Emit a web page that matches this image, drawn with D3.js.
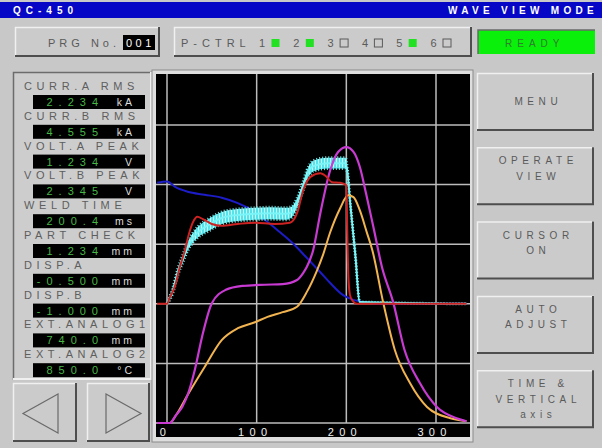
<!DOCTYPE html>
<html>
<head>
<meta charset="utf-8">
<script src="https://cdn.jsdelivr.net/npm/d3@7"></script>
<style>
  body { margin: 0; background: #c8c8c8; }
  text { font-family: "Liberation Sans", Arial, sans-serif; }
</style>
</head>
<body>
<div id="chart"></div>
<script>
// ---- data ----
const timeTicks = [0, 100, 200, 300];
const gridDivs = [0, 1, 2, 3, 4, 5];

const measureLabels = ['CURR.A RMS', 'CURR.B RMS', 'VOLT.A PEAK', 'VOLT.B PEAK', 'WELD TIME',
                       'PART CHECK', 'DISP.A', 'DISP.B', 'EXT.ANALOG1', 'EXT.ANALOG2'];
const measureValues = ['2.234', '4.555', '1.234', '2.345', '200.4', '1.234', '-0.500', '-1.000', '740.0', '850.0'];
const measureUnits = ['kA', 'kA', 'V', 'V', 'ms', 'mm', 'mm', 'mm', 'mm', '°C'];

const ctrlNames = ['1', '2', '3', '4', '5', '6'];
const ctrlOn = [true, true, false, false, true, false];

const menuButtons = [['MENU'], ['OPERATE', 'VIEW'], ['CURSOR', 'ON'], ['AUTO', 'ADJUST'], ['TIME &', 'VERTICAL', 'axis']];

// waveforms: time (ms) / value (grid divisions)
const redT = [-11, 0, 3, 9, 14, 20, 25, 29, 34, 40, 50, 61, 79, 98, 120, 137, 145, 152, 160, 171, 178, 184, 193, 200, 201, 202, 204, 207, 212, 334];
const redV = [2.0, 2.0, 2.1, 2.3, 2.6, 2.9, 3.2, 3.37, 3.46, 3.42, 3.34, 3.31, 3.34, 3.36, 3.34, 3.36, 3.52, 3.91, 4.13, 4.19, 4.13, 4.04, 4.03, 3.99, 3.24, 2.57, 2.15, 2.05, 2.0, 2.0];

const cyanT = [0, 1, 6, 12, 18, 23, 29, 35, 46, 61, 79, 98, 115, 132, 139, 145, 151, 156, 163, 179, 199, 201, 204, 210, 215, 334];
const cyanV = [2.0, 2.03, 2.2, 2.53, 2.77, 2.96, 3.11, 3.21, 3.32, 3.44, 3.49, 3.51, 3.52, 3.51, 3.54, 3.69, 3.94, 4.16, 4.31, 4.36, 4.36, 4.24, 3.74, 2.82, 2.03, 2.0];
const cyanW = [0, 0.01, 0.04, 0.05, 0.06, 0.07, 0.08, 0.09, 0.1, 0.1, 0.1, 0.1, 0.1, 0.1, 0.09, 0.08, 0.07, 0.08, 0.09, 0.09, 0.09, 0.03, 0, 0, 0, 0];

const blueT = [-11, 0, 9, 23, 42, 61, 79, 95, 109, 123, 140, 156, 171, 182, 196, 207, 219, 238, 334];
const blueV = [4.03, 4.05, 3.96, 3.88, 3.83, 3.78, 3.69, 3.57, 3.41, 3.24, 3.02, 2.77, 2.53, 2.35, 2.15, 2.07, 2.03, 2.0, 2.0];

const magT = [-11, 3, 10, 17, 23, 31, 39, 50, 65, 84, 109, 129, 145, 152, 156, 163, 171, 182, 191, 200, 208, 215, 222, 230, 240, 252, 265, 282, 301, 323, 334];
const magV = [0, 0, 0.13, 0.27, 0.47, 0.89, 1.44, 2.01, 2.23, 2.3, 2.32, 2.33, 2.4, 2.52, 2.62, 2.9, 3.52, 4.24, 4.55, 4.63, 4.55, 4.3, 3.85, 3.3, 2.6, 2.04, 1.22, 0.67, 0.27, 0.08, 0.03];

const orT = [-11, 3, 10, 23, 42, 61, 79, 98, 112, 129, 145, 156, 167, 174, 182, 193, 202, 208, 215, 223, 229, 241, 254, 271, 290, 316, 334];
const orV = [0, 0, 0.13, 0.47, 0.94, 1.39, 1.59, 1.69, 1.78, 1.86, 1.95, 2.2, 2.55, 2.82, 3.2, 3.6, 3.82, 3.79, 3.57, 3.19, 2.9, 2.03, 1.23, 0.67, 0.27, 0.08, 0.03];

// ---- page ----
const width = 602, height = 448;
const svg = d3.select('#chart').append('svg')
    .attr('width', width)
    .attr('height', height);

svg.append('rect').attr('width', width).attr('height', height).attr('fill', '#c8c8c8');

// raised / sunken box
function bevel(x, y, w, h, raised, face) {
    const g = svg.append('g');
    g.append('rect').attr('x', x).attr('y', y).attr('width', w).attr('height', h).attr('fill', face || '#cbcbcb');
    g.append('path')
        .attr('d', `M${x + 0.5},${y + h}V${y + 0.5}H${x + w}`)
        .attr('fill', 'none').attr('stroke', raised ? '#f0f0f0' : '#6c6c6c').attr('stroke-width', 1.5);
    g.append('path')
        .attr('d', `M${x},${y + h - 1}H${x + w - 1}V${y}`)
        .attr('fill', 'none').attr('stroke', raised ? '#4e4e4e' : '#f0f0f0').attr('stroke-width', 2);
    return g;
}

function spaced(sel, size, ls, color, weight) {
    return sel.attr('font-size', size)
        .attr('fill', color)
        .attr('font-weight', weight || 'normal')
        .style('letter-spacing', ls + 'px');
}

// title bar
svg.append('rect').attr('x', 0).attr('y', 2).attr('width', width).attr('height', 16).attr('fill', '#0606c6');
spaced(svg.append('text').attr('x', 13).attr('y', 14).text('QC-450'), 10, 5, '#ffffff', 'bold');
spaced(svg.append('text').attr('x', 448).attr('y', 14).text('WAVE VIEW MODE'), 10, 4.3, '#ffffff', 'bold');

// program no.
bevel(15, 27, 145, 30, true);
spaced(svg.append('text').attr('x', 48).attr('y', 47).text('PRG No.'), 11, 4, '#5a5a5a');
svg.append('rect').attr('x', 123).attr('y', 35).attr('width', 32).attr('height', 15).attr('fill', '#000000');
spaced(svg.append('text').attr('x', 126).attr('y', 47).text('001'), 11, 3.5, '#ffffff');

// P-CTRL
bevel(174, 27, 298, 30, true);
spaced(svg.append('text').attr('x', 181).attr('y', 47).text('P-CTRL'), 11, 5, '#5a5a5a');
const ctrl = svg.append('g').selectAll('g')
    .data(ctrlNames)
    .join('g')
    .attr('transform', (d, i) => `translate(${259 + i * 34.3},0)`);
spaced(ctrl.append('text').attr('x', 0).attr('y', 47).text(d => d), 11, 0, '#5a5a5a');
ctrl.append('rect')
    .attr('x', 12.5).attr('y', 39).attr('width', 8).attr('height', 8)
    .attr('fill', (d, i) => ctrlOn[i] ? '#22e022' : 'none')
    .attr('stroke', (d, i) => ctrlOn[i] ? 'none' : '#5a5a5a')
    .attr('stroke-width', 1);

// READY
svg.append('rect').attr('x', 478).attr('y', 30).attr('width', 117).attr('height', 24).attr('fill', '#0af00a');
svg.append('path').attr('d', 'M478,54V30H595').attr('fill', 'none').attr('stroke', '#6a6a6a').attr('stroke-width', 1.5);
spaced(svg.append('text').attr('x', 505).attr('y', 47).text('READY'), 10, 5, '#2f7d2f');

// measurement panel
bevel(13, 72, 139, 308, false, '#cdcdcd');
const meas = svg.append('g').selectAll('g')
    .data(measureLabels)
    .join('g')
    .attr('transform', (d, i) => `translate(0,${i * 29.8})`);
spaced(meas.append('text').attr('x', 24).attr('y', 90).text(d => d), 11, 4.6, '#5e5e5e');
meas.append('rect').attr('x', 33).attr('y', 95).attr('width', 112).attr('height', 14).attr('fill', '#000000');
spaced(meas.append('text').attr('x', 104).attr('y', 106).attr('text-anchor', 'end').text((d, i) => measureValues[i]), 11, 6, '#46b846');
spaced(meas.append('text').attr('x', 135).attr('y', 106).attr('text-anchor', 'end').text((d, i) => measureUnits[i]), 10.5, 3, '#dedede');

// arrow buttons
bevel(13, 383, 64, 59, true);
bevel(87, 383, 63, 59, true);
svg.append('path').attr('d', 'M58,394L23,413.5L58,433Z').attr('fill', 'none').attr('stroke', '#6a6a6a').attr('stroke-width', 1.2);
svg.append('path').attr('d', 'M106,394L141,413.5L106,433Z').attr('fill', 'none').attr('stroke', '#6a6a6a').attr('stroke-width', 1.2);

// right menu
menuButtons.forEach((lines, i) => {
    const top = 73 + i * 74.3;
    bevel(477, top, 117, 58, true);
    const first = lines.length === 1 ? 32 : 17;
    lines.forEach((t, j) => {
        spaced(svg.append('text').attr('x', 536 + 2.3).attr('y', top + first + j * 15.5)
            .attr('text-anchor', 'middle').text(t), 10, 4.6, '#5a5a5a');
    });
});

// ---- wave chart ----
svg.append('rect').attr('x', 152).attr('y', 70).attr('width', 321).attr('height', 372)
    .attr('fill', '#dedede').attr('stroke', '#8a8a8a').attr('stroke-width', 1);
svg.append('rect').attr('x', 156).attr('y', 74).attr('width', 314).attr('height', 363).attr('fill', '#000000');

svg.append('clipPath').attr('id', 'plotclip')
    .append('rect').attr('x', 156).attr('y', 74).attr('width', 314).attr('height', 363);

const x = d3.scaleLinear().domain([0, 300]).range([167, 436]);
const y = d3.scaleLinear().domain([0, 5]).range([423, 125]);

const plot = svg.append('g').attr('clip-path', 'url(#plotclip)');

plot.append('g').selectAll('line')
    .data(timeTicks)
    .join('line')
    .attr('x1', d => x(d)).attr('x2', d => x(d))
    .attr('y1', 74).attr('y2', y(0))
    .attr('stroke', '#bcbcbc').attr('stroke-width', 1.5);
plot.append('g').selectAll('line')
    .data(gridDivs)
    .join('line')
    .attr('x1', 156).attr('x2', 470)
    .attr('y1', d => y(d)).attr('y2', d => y(d))
    .attr('stroke', '#bcbcbc').attr('stroke-width', 1.5);

const axis = plot.append('g')
    .attr('transform', `translate(0,${y(0)})`)
    .call(d3.axisBottom(x).tickValues(timeTicks).tickSize(0).tickPadding(5));
axis.select('.domain').remove();
axis.selectAll('text')
    .attr('fill', '#f0f0f0')
    .attr('font-size', 11)
    .attr('font-family', '"Liberation Sans", Arial, sans-serif')
    .attr('dx', -2)
    .style('letter-spacing', '5.3px');

const line = d3.line()
    .x(d => x(d[0]))
    .y(d => y(d[1]))
    .curve(d3.curveMonotoneX);

// stripes for the noisy current trace
const pat = svg.append('defs').append('pattern')
    .attr('id', 'noise').attr('width', 3).attr('height', 6).attr('patternUnits', 'userSpaceOnUse');
pat.append('rect').attr('width', 3).attr('height', 6).attr('fill', '#56e2ea');
pat.append('rect').attr('width', 1).attr('height', 6).attr('fill', '#c4ffff');

plot.append('path').datum(d3.zip(blueT, blueV))
    .attr('d', line).attr('fill', 'none').attr('stroke', '#1c1cc8').attr('stroke-width', 2);

const band = d3.area()
    .x(d => x(d[0]))
    .y0(d => y(d[1] - d[2]))
    .y1(d => y(d[1] + d[2]))
    .curve(d3.curveMonotoneX);
plot.append('path').datum(d3.zip(cyanT, cyanV, cyanW))
    .attr('d', band).attr('fill', 'url(#noise)')
    .attr('stroke', '#6cf0f2').attr('stroke-width', 3).attr('stroke-dasharray', '1 2');
plot.append('path').datum(d3.zip(cyanT, cyanV))
    .attr('d', line).attr('fill', 'none').attr('stroke', '#7af4f6').attr('stroke-width', 2);

plot.append('path').datum(d3.zip(orT, orV))
    .attr('d', line).attr('fill', 'none').attr('stroke', '#f2b450').attr('stroke-width', 2);
plot.append('path').datum(d3.zip(magT, magV))
    .attr('d', line).attr('fill', 'none').attr('stroke', '#c83ad2').attr('stroke-width', 2.2);
plot.append('path').datum(d3.zip(redT, redV))
    .attr('d', line).attr('fill', 'none').attr('stroke', '#cc2222').attr('stroke-width', 2);
</script>
</body>
</html>
